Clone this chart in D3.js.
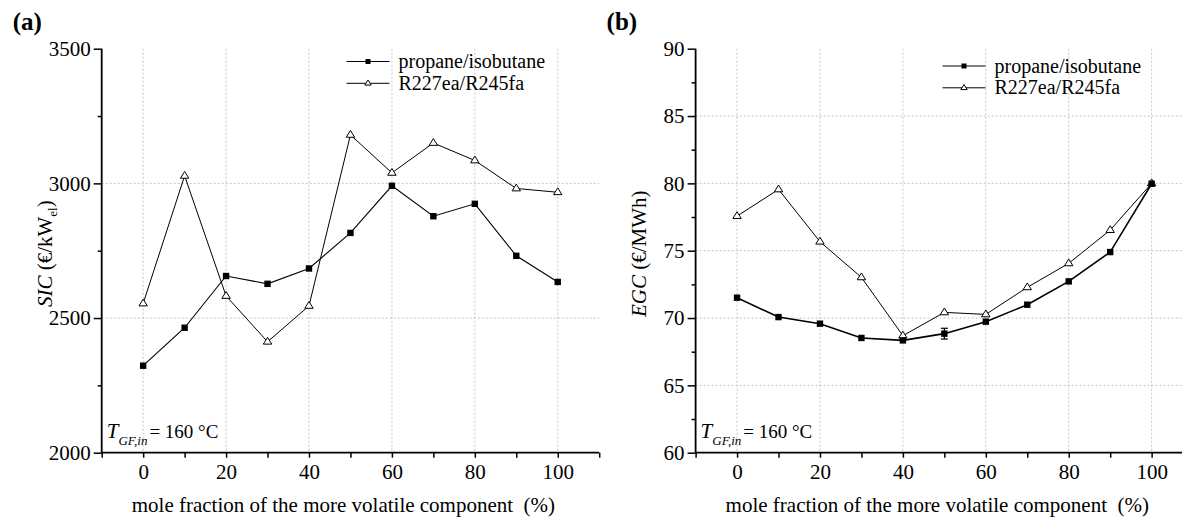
<!doctype html>
<html>
  <head>
    <meta charset="utf-8">
    <title>SIC / EGC vs mole fraction</title>
    <script type="text/javascript" src="https://d3js.org/d3.v7.min.js"></script>
    <style>
      body { margin: 0; background: #fff; }
      text { font-family: "Liberation Serif", "Times New Roman", serif; fill: #000; }
    </style>
  </head>
  <body>
    <script>
      // mole fraction of the more volatile component (%)
      const molFrac = [0, 10, 20, 30, 40, 50, 60, 70, 80, 90, 100];

      // (a) specific investment cost
      const sicPropane = [2323, 2464, 2656, 2627, 2684, 2816, 2991, 2878, 2924, 2731, 2634];
      const sicR227 = [2554, 3028, 2582, 2412, 2545, 3180, 3039, 3150, 3085, 2981, 2967];

      // (b) electricity generation cost
      const egcPropane = [71.51, 70.07, 69.58, 68.52, 68.34, 68.84, 69.73, 70.99, 72.72, 74.90, 79.97];
      const egcPropaneErr = [0, 0, 0, 0, 0, 0.4, 0, 0, 0, 0, 0];
      const egcR227 = [77.57, 79.55, 75.67, 73.02, 68.69, 70.42, 70.27, 72.28, 74.06, 76.53, 80.0];

      const seriesNames = ['propane/isobutane', 'R227ea/R245fa'];
      const xTicks = [0, 20, 40, 60, 80, 100];

      const width = 1182;
      const height = 517;
      const fs = 21;

      const svg = d3.select('body').append('svg')
          .attr('width', width)
          .attr('height', height)
          .attr('font-family', '"Liberation Serif", serif');

      const triPath = 'M0,-4.4L4.2,2.4L-4.2,2.4Z';
      const triSmall = 'M0,-3.2L3.2,1.8L-3.2,1.8Z';

      function drawPanel(opts) {
        const g = svg.append('g');
        const x = d3.scaleLinear().domain([-10, 110]).range([opts.left, opts.left + 497.5]);
        const y = d3.scaleLinear().domain(opts.yDomain).range([452.7, 48.7]);

        // grid
        g.selectAll('.vgrid').data(xTicks).enter().append('line')
            .attr('x1', d => x(d)).attr('x2', d => x(d))
            .attr('y1', y.range()[1]).attr('y2', y.range()[0])
            .attr('stroke', '#c4c4c4').attr('stroke-width', 1)
            .attr('stroke-dasharray', '2,2');
        const yMajor = d3.range(opts.yDomain[0], opts.yDomain[1] + 0.001, opts.yStep);
        g.selectAll('.hgrid').data(yMajor.slice(1, -1)).enter().append('line')
            .attr('x1', x(-10)).attr('x2', x(110))
            .attr('y1', d => y(d)).attr('y2', d => y(d))
            .attr('stroke', '#c4c4c4').attr('stroke-width', 1)
            .attr('stroke-dasharray', '2,2');

        // axes
        const xAxis = d3.axisBottom(x)
            .tickValues(d3.range(-10, 111, 10))
            .tickSize(5)
            .tickFormat(d => (d % 20 === 0 && d >= 0 && d <= 100) ? d : '');
        const yAxis = d3.axisLeft(y)
            .tickValues(d3.range(opts.yDomain[0], opts.yDomain[1] + 0.001, opts.yStep / 2))
            .tickSize(4)
            .tickFormat(d => yMajor.includes(d) ? d : '');

        const gx = g.append('g').attr('transform', `translate(0,${y.range()[0]})`).call(xAxis);
        const gy = g.append('g').attr('transform', `translate(${x(-10)},0)`).call(yAxis);
        [gx, gy].forEach(a => {
          a.attr('font-family', null).attr('font-size', null);
          a.select('.domain').attr('stroke', '#000').attr('stroke-width', 1.8)
            .attr('d', a === gx ? `M${x(-10)},0H${x(110)}` : `M0,${y.range()[1]}V${y.range()[0]}`);
          a.selectAll('.tick line').attr('stroke', '#000').attr('stroke-width', 1.5);
          a.selectAll('.tick text').attr('font-size', fs);
        });
        gy.selectAll('.tick').filter(d => yMajor.includes(d)).select('line').attr('x2', -8);
        gy.selectAll('.tick text').attr('x', -11);
        gx.selectAll('.tick text').attr('y', 11);

        // series
        const line = d3.line().x((d, i) => x(molFrac[i])).y(d => y(d));
        g.append('path').datum(opts.r227)
            .attr('d', line).attr('fill', 'none').attr('stroke', '#000').attr('stroke-width', 1);
        g.append('path').datum(opts.propane)
            .attr('d', line).attr('fill', 'none').attr('stroke', '#000').attr('stroke-width', opts.propWidth);

        if (opts.err) {
          const eb = g.selectAll('.err').data(opts.err.map((e, i) => ({ e, i })).filter(d => d.e > 0))
              .enter().append('g').attr('stroke', '#000').attr('stroke-width', 1.2);
          eb.append('line')
              .attr('x1', d => x(molFrac[d.i])).attr('x2', d => x(molFrac[d.i]))
              .attr('y1', d => y(opts.propane[d.i] - d.e)).attr('y2', d => y(opts.propane[d.i] + d.e));
          [-1, 1].forEach(s => {
            eb.append('line')
                .attr('x1', d => x(molFrac[d.i]) - 3.5).attr('x2', d => x(molFrac[d.i]) + 3.5)
                .attr('y1', d => y(opts.propane[d.i] + s * d.e)).attr('y2', d => y(opts.propane[d.i] + s * d.e));
          });
        }

        g.selectAll('.tri').data(opts.r227).enter().append('path')
            .attr('d', triPath)
            .attr('transform', (d, i) => `translate(${x(molFrac[i])},${y(d)})`)
            .attr('fill', '#fff').attr('stroke', '#000').attr('stroke-width', 1);
        g.selectAll('.sq').data(opts.propane).enter().append('rect')
            .attr('x', (d, i) => x(molFrac[i]) - 3.2).attr('y', d => y(d) - 3.2)
            .attr('width', 6.4).attr('height', 6.4).attr('fill', '#000');

        // legend
        const lg = g.append('g').attr('transform', `translate(${opts.legX},${opts.legY})`);
        seriesNames.forEach((name, k) => {
          const row = lg.append('g').attr('transform', `translate(0,${k * 21.8})`);
          row.append('line').attr('x1', 0).attr('x2', 43).attr('y1', 0).attr('y2', 0)
              .attr('stroke', '#000').attr('stroke-width', 1);
          if (k === 0) {
            row.append('rect').attr('x', 19).attr('y', -2.5).attr('width', 5).attr('height', 5).attr('fill', '#000');
          } else {
            row.append('path').attr('d', triSmall).attr('transform', 'translate(21.5,0)')
                .attr('fill', '#fff').attr('stroke', '#000').attr('stroke-width', 1);
          }
          row.append('text').attr('x', 52).attr('y', 6.5).attr('font-size', 20).text(name);
        });

        // panel letter
        g.append('text').attr('x', opts.left - 89).attr('y', 30)
            .attr('font-size', 25).attr('font-weight', 'bold').text(opts.letter);

        // y title
        const yt = g.append('text')
            .attr('transform', `translate(${opts.left - 50},${y.range()[0] - 199}) rotate(-90)`)
            .attr('text-anchor', 'middle').attr('font-size', fs);
        yt.append('tspan').attr('font-style', 'italic').text(opts.yName);
        yt.append('tspan').text(opts.yUnit);
        if (opts.ySub) {
          yt.append('tspan').attr('font-size', 13).attr('dy', 5).text(opts.ySub);
          yt.append('tspan').attr('dy', -5).text(')');
        }

        // x title
        g.append('text').attr('x', x(48.3)).attr('y', 512)
            .attr('text-anchor', 'middle').attr('font-size', fs)
            .attr('xml:space', 'preserve')
            .text('mole fraction of the more volatile component  (%)');

        // temperature note
        const tn = g.append('text').attr('x', x(-10) + 5).attr('y', 438).attr('font-size', 19);
        tn.append('tspan').attr('font-style', 'italic').attr('font-size', 21).text('T');
        tn.append('tspan').attr('font-style', 'italic').attr('font-size', 13).attr('dy', 7).text('GF,in');
        tn.append('tspan').attr('dy', -7).attr('dx', 2).text('= 160 °C');
      }

      drawPanel({
        left: 101.7, letter: '(a)', yDomain: [2000, 3500], yStep: 500,
        propane: sicPropane, r227: sicR227, propWidth: 1.1,
        legX: 346.5, legY: 61.5,
        yName: 'SIC', yUnit: ' (€/kW', ySub: 'el'
      });

      drawPanel({
        left: 695.6, letter: '(b)', yDomain: [60, 90], yStep: 5,
        propane: egcPropane, r227: egcR227, propWidth: 1.6, err: egcPropaneErr,
        legX: 942.5, legY: 66,
        yName: 'EGC', yUnit: ' (€/MWh)'
      });
    </script>
  </body>
</html>
